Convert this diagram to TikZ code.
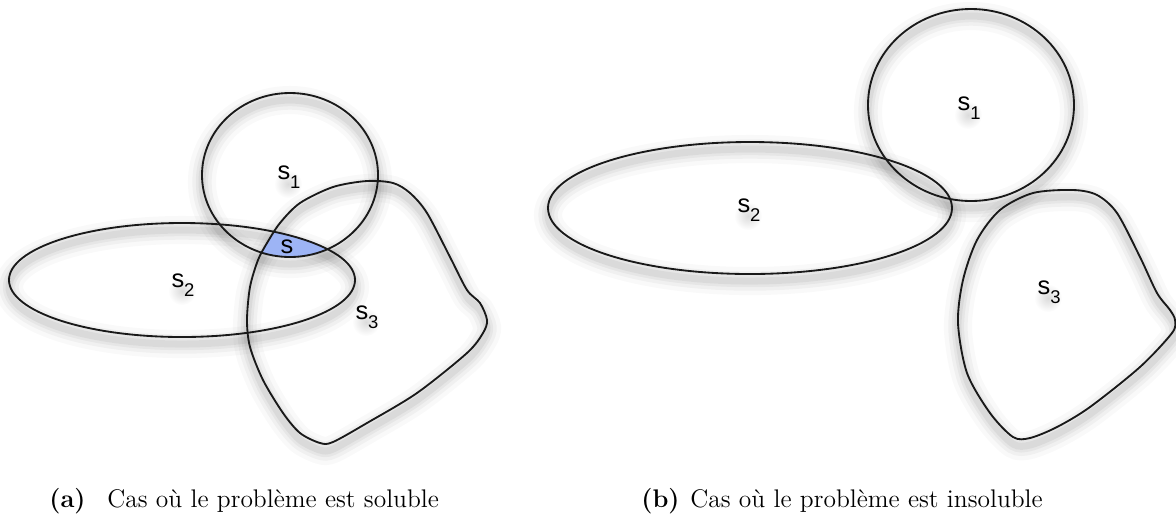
\documentclass[tikz,border=0pt]{standalone}
\usepackage{fontspec}
\newfontfamily\labfont{Liberation Sans}
\usetikzlibrary{fadings}
\tikzfading[name=fuzzy, inner color=transparent!0, outer color=transparent!100]
\definecolor{inter}{RGB}{157,180,245}
\definecolor{ink}{RGB}{25,25,25}
\newcommand\lbl[1]{{\labfont\fontsize{14.5}{14.5}\selectfont s\raisebox{-5pt}{\fontsize{10.5}{10.5}\selectfont #1}}}
\newcommand\softshadow[1]{\foreach \w/\o in {16/0.025,11/0.035,7/0.045,4/0.05}{\draw[line width=\w pt, draw=black, opacity=\o, yshift=-4pt] #1;}}
\newcommand\textshadow[1]{\fill[black, opacity=0.14, path fading=fuzzy] #1 circle (14);}
\tikzset{
  outline/.style={draw=ink, line width=1.05pt},
  lab/.style={inner sep=0pt},
  captext/.style={anchor=base west, inner sep=0pt, font=\fontsize{14.5}{17}\selectfont}
}
\def\blobA{plot[smooth cycle] coordinates {(280,223) (300,203) (333,187) (367,181) (393,183) (410,193) (427,213) (450,257) (467,290) (480,303) (487,320) (483,333) (467,353) (417,393) (367,423) (333,442) (320,443) (300,433) (283,413) (263,380) (250,347) (247,320) (250,287) (258,260) (267,243)}}
\def\blobB{plot[smooth cycle] coordinates {(1073,190) (1097,195) (1117,213) (1140,257) (1157,293) (1170,310) (1175,320) (1172,333) (1140,367) (1090,407) (1057,427) (1030,438) (1013,437) (990,413) (967,373) (958,323) (963,280) (977,240) (1000,210) (1033,193)}}
\begin{document}
\begin{tikzpicture}[x=0.02cm,y=-0.02cm]
\useasboundingbox (0,0) rectangle (1176,515);
% ---------- shadows (a)
\softshadow{(290,175) ellipse [x radius=88, y radius=82]}
\softshadow{(182,280) ellipse [x radius=173, y radius=57]}
\softshadow{\blobA}
% ---------- shadows (b)
\softshadow{(971,105) ellipse [x radius=103, y radius=96]}
\softshadow{(750,208) ellipse [x radius=202, y radius=66]}
\softshadow{\blobB}
% ---------- intersection (a)
\begin{scope}
  \clip (290,175) ellipse [x radius=88, y radius=82];
  \clip (182,280) ellipse [x radius=173, y radius=57];
  \fill[inter] \blobA;
\end{scope}
% ---------- outlines (a)
\draw[outline] (290,175) ellipse [x radius=88, y radius=82];
\draw[outline] (182,280) ellipse [x radius=173, y radius=57];
\draw[outline] \blobA;
% ---------- outlines (b)
\draw[outline] (971,105) ellipse [x radius=103, y radius=96];
\draw[outline] (750,208) ellipse [x radius=202, y radius=66];
\draw[outline] \blobB;
% ---------- label shadows
\textshadow{(288,184)}
\textshadow{(182,291)}
\textshadow{(366,322)}
\textshadow{(968,115)}
\textshadow{(748,216)}
\textshadow{(1048,298)}
% ---------- labels (a)
\node[lab] (s1a) at (289,177) {\lbl{1}};
\node[lab] (s2a) at (183,285) {\lbl{2}};
\node[lab] (s3a) at (367,317) {\lbl{3}};
\node[lab] (sa) at (287,247) {\labfont\fontsize{14.5}{14.5}\selectfont s};
% ---------- labels (b)
\node[lab] (s1b) at (969,108) {\lbl{1}};
\node[lab] (s2b) at (749,210) {\lbl{2}};
\node[lab] (s3b) at (1049,292) {\lbl{3}};
% ---------- captions
\node[captext] (capa) at (49,507) {\textbf{(a)}};
\node[captext] (capat) at (107,507) {Cas où le problème est soluble};
\node[captext] (capb) at (641,507) {\textbf{(b)}};
\node[captext] (capbt) at (690,507) {Cas où le problème est insoluble};
\end{tikzpicture}
\end{document}
